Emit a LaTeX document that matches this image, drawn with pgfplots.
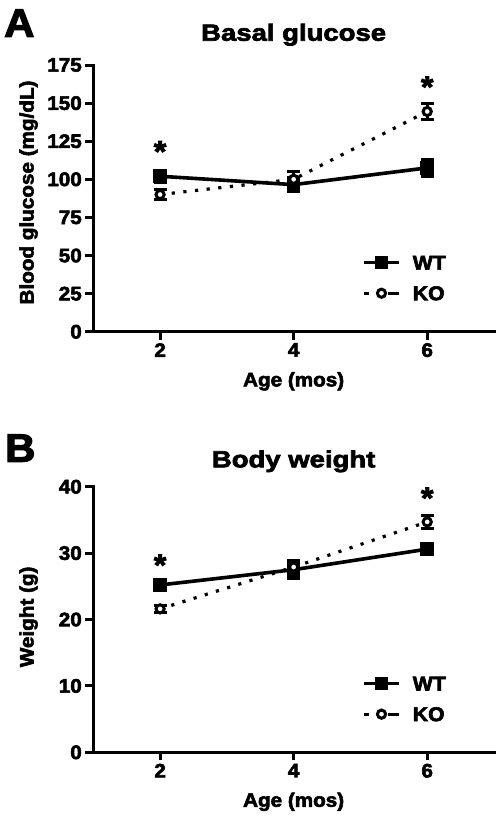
\documentclass[border=0pt]{standalone}
\usepackage{fontspec}
\setmainfont{Liberation Sans}
\newfontfamily\hv{Liberation Sans Bold}[FakeStretch=1.06, FakeBold=3]
\newfontfamily\titlefont{Liberation Sans Bold}[FakeStretch=1.18, FakeBold=3]
\usepackage{pgfplots}
\pgfplotsset{compat=1.18}
\pgfplotsset{
  panel/.style={
    scale only axis, width=400.7bp,
    axis lines*=left,
    xmin=1, xmax=7, xtick={2,4,6},
    tick align=outside, major tick length=8bp,
    every tick/.style={line width=3bp, black},
    axis line style={line width=3bp, line cap=rect},
    ticklabel style={font=\hv\fontsize{19.5bp}{21bp}\selectfont},
    /pgf/number format/assume math mode=true,
    label style={font=\hv\fontsize{19.5bp}{21bp}\selectfont},
    xlabel={Age (mos)},
    xlabel style={at={(axis description cs:0.5,-0.205)}, anchor=base},
    title style={anchor=base, font=\titlefont\fontsize{23.3bp}{25bp}\selectfont},
    clip=false,
    legend style={anchor=north west, draw=none, fill=none, inner sep=0pt,
      row sep=16.6bp, column sep=12bp,
      nodes={inner sep=0pt, text height=14bp, text depth=0pt, font=\hv\fontsize{20bp}{22bp}\selectfont}},
    legend cell align=left,
    legend image code/.code={\draw[mark repeat=2, mark phase=2, #1] plot coordinates {(0bp,0bp) (17.5bp,0bp) (35bp,0bp)};},
  },
  wt/.style={black, line width=3.6bp, mark=square*, mark size=5bp, mark options={solid},
    error bars/.cd, y dir=both, y explicit,
    error bar style={line width=3bp, solid},
    error mark options={rotate=90, line width=3bp, mark size=6.5bp, solid}},
  ko/.style={black, line width=3.2bp, dash pattern=on 3.2bp off 8.5bp, mark=*, mark size=4.1bp,
    mark options={solid, fill=white, line width=3bp},
    legend image post style={dash pattern=on 5bp off 19bp on 11bp off 1bp},
    error bars/.cd, y dir=both, y explicit,
    error bar style={line width=3bp, solid},
    error mark options={rotate=90, line width=3bp, mark size=6.5bp, solid}},
}
\begin{document}
\begin{tikzpicture}
\path[use as bounding box] (0,0) rectangle (498bp,-820bp);
\node[anchor=base west, inner sep=0pt, font=\hv\fontsize{39.5bp}{40bp}\selectfont] at (4bp,-36.7bp) {A};
\node[anchor=base west, inner sep=0pt, font=\hv\fontsize{39.5bp}{40bp}\selectfont] at (5bp,-461.7bp) {B};
% Panel A
\begin{axis}[panel, at={(93.3bp,-331.7bp)}, anchor=south west, height=266.7bp,
  ymin=0, ymax=175, ytick={0,25,50,75,100,125,150,175},
  ylabel={Blood glucose (mg/dL)},
  ylabel style={at={(axis description cs:-0.1617,0.522)}, anchor=center},
  title={Basal glucose}, title style={at={(axis description cs:0.5,1.0686)}},
  legend style={at={(axis description cs:0.6706,0.286)}},
]
\addplot[wt] coordinates {(2,102) +- (0,4) (4,96.5) +- (0,4.5) (6,107.5) +- (0,5.5)};
\addplot[ko] coordinates {(2,90) +- (0,3) (4,100) +- (0,5) (6,144.5) +- (0,5)};
\legend{WT,KO}
\node[anchor=north, inner sep=0pt, font=\hv\fontsize{30bp}{30bp}\selectfont] at (axis cs:2,125.2) {*};
\node[anchor=north, inner sep=0pt, font=\hv\fontsize{30bp}{30bp}\selectfont] at (axis cs:6,167.6) {*};
\end{axis}
% Panel B
\begin{axis}[panel, at={(93.3bp,-752.3bp)}, anchor=south west, height=265.6bp,
  ymin=0, ymax=40, ytick={0,10,20,30,40},
  ylabel={Weight (g)},
  ylabel style={at={(axis description cs:-0.1617,0.51)}, anchor=center},
  title={Body weight}, title style={at={(axis description cs:0.5,1.0505)}},
  legend style={at={(axis description cs:0.6706,0.286)}},
]
\addplot[wt] coordinates {(2,25.2) +- (0,0.5) (4,27.5) +- (0,1.3) (6,30.6) +- (0,0.5)};
\addplot[ko] coordinates {(2,21.6) +- (0,0.5) (4,27.9) +- (0,1.0) (6,34.7) +- (0,1.0)};
\legend{WT,KO}
\node[anchor=north, inner sep=0pt, font=\hv\fontsize{30bp}{30bp}\selectfont] at (axis cs:2,29.8) {*};
\node[anchor=north, inner sep=0pt, font=\hv\fontsize{30bp}{30bp}\selectfont] at (axis cs:6,39.9) {*};
\end{axis}
\end{tikzpicture}
\end{document}
